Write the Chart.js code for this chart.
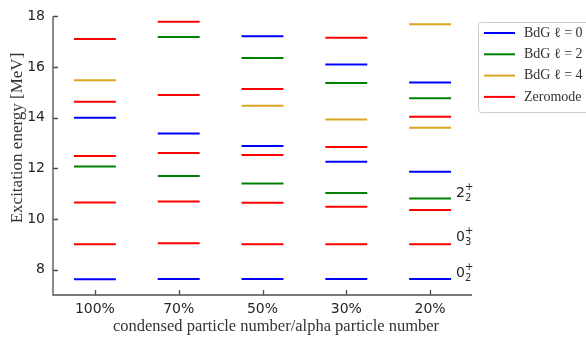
<!DOCTYPE html>
<html>
<head>
<meta charset="utf-8">
<script src="https://cdn.jsdelivr.net/npm/chart.js@4"></script>
<style>
  html, body { margin: 0; padding: 0; background: #fff; }
  #wrap { width: 586px; height: 337px; }
</style>
</head>
<body>
<div id="wrap"><canvas id="levels" width="586" height="337"></canvas></div>
<script>
// categories on the x axis
const categories = ['100%', '70%', '50%', '30%', '20%'];
const yTicks = [8, 10, 12, 14, 16, 18];

// energy levels [MeV] per category, one array per series
const bdgL0 = [[7.62, 14.00], [7.63, 13.38], [7.63, 12.88, 17.22], [7.63, 12.26, 16.10], [7.63, 11.87, 15.39]];
const bdgL2 = [[12.07], [11.70, 17.19], [11.40, 16.36], [11.03, 15.37], [10.81, 14.77]];
const bdgL4 = [[15.48], [], [14.47], [13.93], [13.60, 17.69]];
const zeromode = [
    [9.00, 10.65, 12.49, 14.63, 17.11],
    [9.04, 10.69, 12.61, 14.90, 17.79],
    [9.00, 10.64, 12.53, 15.13],
    [9.00, 10.48, 12.84, 17.16],
    [9.00, 10.36, 14.04]
];

// state labels next to the last column
const stateMain = ['0', '0', '2'];
const stateSub = ['2', '3', '2'];
const stateY = [7.84, 9.26, 11.03];

const seriesNames = ['BdG \u2113 = 0', 'BdG \u2113 = 2', 'BdG \u2113 = 4', 'Zeromode'];
const seriesColors = ['#0000ff', '#008000', '#daa520', '#ff0000'];
const seriesData = [bdgL0, bdgL2, bdgL4, zeromode];

// each level is a short horizontal segment around its category
function segments(levels) {
    const pts = [];
    levels.forEach((col, i) => {
        col.forEach(v => {
            pts.push({ x: i - 0.25, y: v }, { x: i + 0.25, y: v }, { x: i, y: null });
        });
    });
    return pts;
}

const datasets = seriesData.map((d, k) => ({
    label: seriesNames[k],
    data: segments(d),
    borderColor: seriesColors[k],
    backgroundColor: seriesColors[k],
    borderWidth: 2,
    pointRadius: 0,
    tension: 0,
    spanGaps: false
}));

const axisColor = '#4d4d4d';

const decorations = {
    id: 'decorations',
    afterDraw(chart) {
        const { ctx, chartArea: a, scales: { x, y } } = chart;
        ctx.save();

        // axes (left + bottom) with inward ticks
        ctx.strokeStyle = axisColor;
        ctx.lineWidth = 1.3;
        ctx.beginPath();
        ctx.moveTo(a.left, a.top);
        ctx.lineTo(a.left, a.bottom);
        ctx.lineTo(a.right, a.bottom);
        yTicks.forEach(v => {
            const py = Math.round(y.getPixelForValue(v)) + 0.5;
            ctx.moveTo(a.left, py);
            ctx.lineTo(a.left + 5, py);
        });
        categories.forEach((c, i) => {
            const px = Math.round(x.getPixelForValue(i)) + 0.5;
            ctx.moveTo(px, a.bottom);
            ctx.lineTo(px, a.bottom - 5);
        });
        ctx.stroke();

        // axis titles
        ctx.fillStyle = '#333333';
        ctx.font = '17px "Liberation Serif"';
        ctx.textAlign = 'center';
        ctx.textBaseline = 'middle';
        ctx.save();
        ctx.translate(18, 138);
        ctx.rotate(-Math.PI / 2);
        ctx.fillText('Excitation energy [MeV]', 0, 0);
        ctx.restore();
        ctx.font = '16.5px "Liberation Serif"';
        ctx.fillText('condensed particle number/alpha particle number', 276, 327);

        // state labels
        ctx.fillStyle = '#262626';
        const lx = x.getPixelForValue(4) + 26;
        stateMain.forEach((m, i) => {
            const py = y.getPixelForValue(stateY[i]);
            ctx.textAlign = 'left';
            ctx.font = '14px "DejaVu Sans"';
            ctx.fillText(m, lx, py);
            const w = ctx.measureText(m).width;
            ctx.font = '10px "DejaVu Sans"';
            ctx.fillText('+', lx + w, py - 6);
            ctx.fillText(stateSub[i], lx + w, py + 5);
        });

        // legend box
        const bx = 478, by = 22, bh = 90;
        ctx.strokeStyle = '#cccccc';
        ctx.lineWidth = 1;
        ctx.fillStyle = 'rgba(255,255,255,0.8)';
        ctx.beginPath();
        ctx.roundRect(bx + 0.5, by + 0.5, 140, bh, 3);
        ctx.fill();
        ctx.stroke();
        ctx.font = '14px "Liberation Serif"';
        ctx.textAlign = 'left';
        seriesNames.forEach((n, k) => {
            const ry = 33 + k * 21.3;
            ctx.strokeStyle = seriesColors[k];
            ctx.lineWidth = 2;
            ctx.beginPath();
            ctx.moveTo(484, ry);
            ctx.lineTo(515, ry);
            ctx.stroke();
            ctx.fillStyle = '#333333';
            ctx.fillText(n, 524, ry);
        });

        ctx.restore();
    }
};

new Chart(document.getElementById('levels'), {
    type: 'line',
    data: { datasets },
    options: {
        responsive: false,
        animation: false,
        layout: { padding: { left: 0, right: 114, top: 15, bottom: 0 } },
        plugins: { legend: { display: false }, tooltip: { enabled: false } },
        scales: {
            x: {
                type: 'linear',
                min: -0.5,
                max: 4.5,
                afterBuildTicks: s => { s.ticks = categories.map((c, i) => ({ value: i })); },
                afterFit: s => { s.height = 42; },
                grid: { display: false, drawTicks: false },
                border: { display: false },
                ticks: {
                    callback: v => categories[v],
                    font: { family: 'DejaVu Sans', size: 14 },
                    color: '#262626',
                    padding: 6,
                    maxRotation: 0,
                    autoSkip: false
                }
            },
            y: {
                min: 7,
                max: 18,
                afterBuildTicks: s => { s.ticks = yTicks.map(v => ({ value: v })); },
                afterFit: s => { s.width = 53; },
                grid: { display: false, drawTicks: false },
                border: { display: false },
                ticks: {
                    font: { family: 'DejaVu Sans', size: 14 },
                    color: '#262626',
                    padding: 8
                }
            }
        }
    },
    plugins: [decorations]
});
</script>
</body>
</html>
